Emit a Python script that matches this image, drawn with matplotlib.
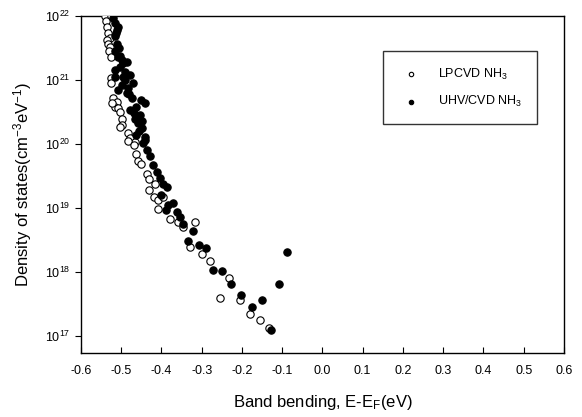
import matplotlib
matplotlib.use("Agg")
import matplotlib.pyplot as plt
import matplotlib.ticker as mticker

plt.rcParams['font.family'] = ['Liberation Sans', 'DejaVu Sans']
plt.rcParams['mathtext.fontset'] = 'custom'
plt.rcParams['mathtext.rm'] = 'Liberation Sans'
plt.rcParams['mathtext.it'] = 'Liberation Sans'
plt.rcParams['mathtext.default'] = 'regular'

# LPCVD NH3 (open circles)
lp_x = [-0.540, -0.526, -0.538, -0.536, -0.532, -0.528, -0.535, -0.532, -0.528, -0.530,
        -0.524, -0.524, -0.526, -0.520, -0.511, -0.516, -0.507, -0.523, -0.503, -0.499,
        -0.499, -0.503, -0.482, -0.478, -0.466, -0.484, -0.468, -0.462, -0.458, -0.451,
        -0.437, -0.431, -0.416, -0.431, -0.418, -0.408, -0.396, -0.409, -0.379, -0.358,
        -0.346, -0.316, -0.329, -0.298, -0.279, -0.232, -0.255, -0.206, -0.179, -0.155,
        -0.132]
lp_y = [1.0e22, 1.0e22, 8.4e21, 6.7e21, 5.4e21, 4.5e21, 4.2e21, 3.7e21, 3.3e21, 2.8e21,
        2.3e21, 1.06e21, 8.9e20, 5.2e20, 4.6e20, 3.8e20, 3.6e20, 4.4e20, 3.2e20, 2.5e20,
        2.0e20, 1.86e20, 1.47e20, 1.23e20, 1.09e20, 1.11e20, 9.6e19, 7.0e19, 5.5e19, 4.9e19,
        3.4e19, 2.8e19, 2.4e19, 1.9e19, 1.5e19, 1.33e19, 1.5e19, 9.6e18, 6.7e18, 6.0e18,
        5.1e18, 6.1e18, 2.5e18, 1.9e18, 1.49e18, 8.05e17, 3.9e17, 3.7e17, 2.2e17, 1.76e17,
        1.35e17]

# UHV/CVD NH3 (filled circles)
uhv_x = [-0.520, -0.516, -0.511, -0.516, -0.511, -0.516, -0.507, -0.499, -0.495, -0.503,
         -0.491, -0.516, -0.516, -0.491, -0.499, -0.483, -0.486, -0.474, -0.462, -0.478,
         -0.466, -0.458, -0.449, -0.462, -0.441, -0.445, -0.437, -0.429, -0.420, -0.412,
         -0.404, -0.396, -0.387, -0.400, -0.383, -0.371, -0.389, -0.362, -0.354, -0.346,
         -0.321, -0.333, -0.306, -0.289, -0.271, -0.250, -0.226, -0.202, -0.176, -0.151,
         -0.128, -0.108, -0.0875, -0.503, -0.486, -0.478, -0.508, -0.451, -0.441, -0.453,
         -0.513, -0.505, -0.470, -0.447, -0.509, -0.495, -0.480, -0.468, -0.456, -0.440]
uhv_y = [9.2e21, 7.7e21, 6.0e21, 4.8e21, 3.7e21, 2.8e21, 2.3e21, 2.05e21, 1.82e21, 1.6e21,
         1.35e21, 1.43e21, 1.13e21, 1.0e21, 8.4e20, 7.4e20, 6.2e20, 5.2e20, 3.8e20, 3.4e20,
         2.5e20, 2.1e20, 1.76e20, 1.38e20, 1.3e20, 1.03e20, 8.1e19, 6.5e19, 4.7e19, 3.7e19,
         2.9e19, 2.4e19, 2.1e19, 1.6e19, 1.11e19, 1.18e19, 9.4e18, 8.7e18, 7.2e18, 5.6e18,
         4.4e18, 3.05e18, 2.64e18, 2.35e18, 1.06e18, 1.05e18, 6.6e17, 4.3e17, 2.84e17, 3.6e17,
         1.24e17, 6.5e17, 2.07e18, 2.4e21, 1.9e21, 1.2e21, 7.0e20, 4.9e20, 4.4e20, 2.8e20,
         5.5e21, 3.2e21, 9.0e20, 2.3e20, 6.8e21, 1.1e21, 6.0e20, 3.0e20, 1.6e20, 1.15e20]

xticks = [-0.6, -0.5, -0.4, -0.3, -0.2, -0.1, 0.0, 0.1, 0.2, 0.3, 0.4, 0.5, 0.6]

fig = plt.figure(figsize=(5.82, 4.17), dpi=100)
ax = fig.add_axes([0.139, 0.1535, 0.830, 0.808])

ax.scatter(lp_x, lp_y, s=28, facecolors='white', edgecolors='black', linewidths=0.8,
           label='LPCVD NH$_3$', zorder=3)
ax.scatter(uhv_x, uhv_y, s=28, facecolors='black', edgecolors='black', linewidths=0.8,
           label='UHV/CVD NH$_3$', zorder=3)

ax.set_yscale('log')
ax.set_xlim(-0.6, 0.6)
ax.set_ylim(5.42e16, 1e22)
ax.set_xticks(xticks)
ax.xaxis.set_major_formatter(mticker.FormatStrFormatter('%.1f'))
ax.yaxis.set_minor_locator(mticker.NullLocator())

ax.tick_params(axis='x', direction='in', length=4, labelsize=9, pad=9)
ax.tick_params(axis='y', direction='out', length=4, labelsize=9)
for sp in ax.spines.values():
    sp.set_linewidth(1.0)

ax.set_xlabel('Band bending, E-E$_F$(eV)', fontsize=12, labelpad=11)
ax.set_ylabel('Density of states(cm$^{-3}$eV$^{-1}$)', fontsize=12, labelpad=8)

leg = ax.legend(loc='upper right', bbox_to_anchor=(0.945, 0.895), frameon=True,
                fancybox=False, edgecolor='black', fontsize=9, markerscale=0.6,
                labelspacing=1.0, borderpad=1.2, handletextpad=1.2, borderaxespad=0)
leg.get_frame().set_linewidth(1.0)

fig.savefig('out.png', dpi=100)
